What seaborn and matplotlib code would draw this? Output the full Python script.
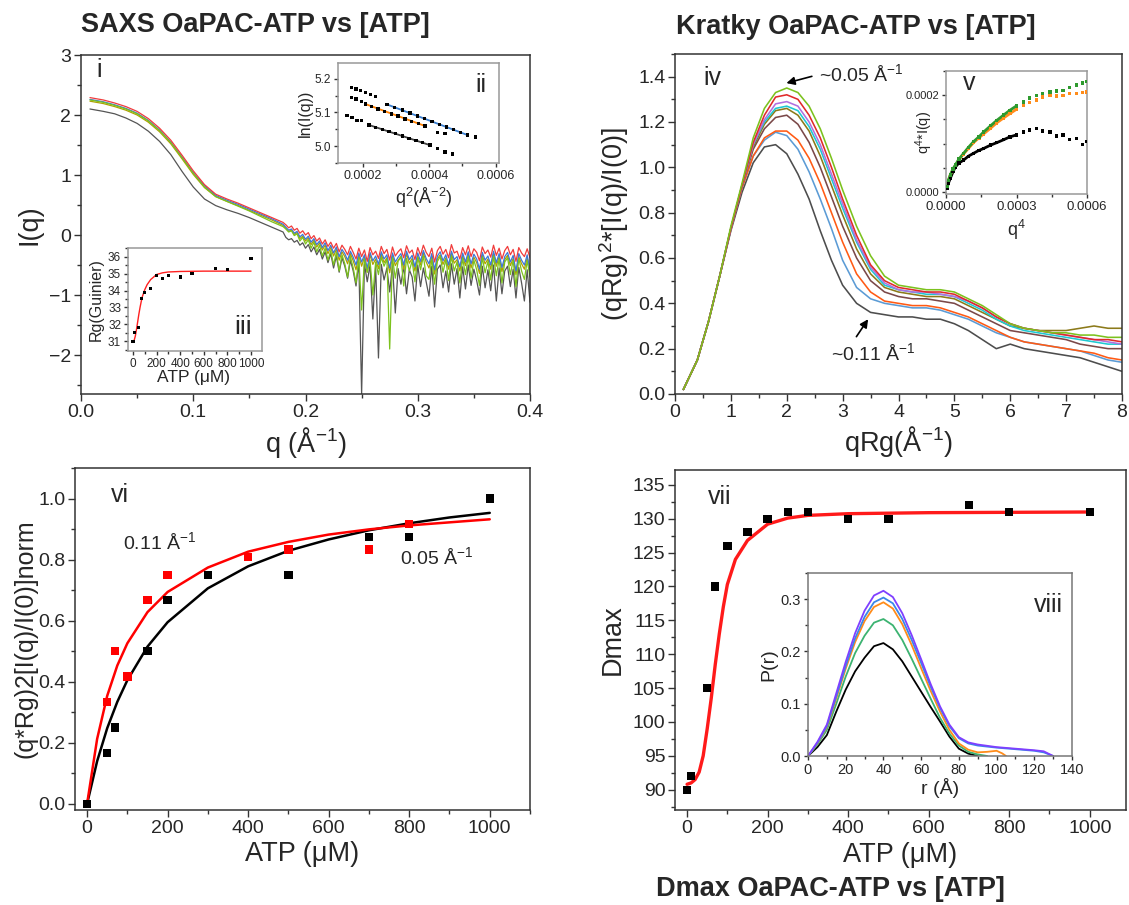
import numpy as np
import pandas as pd
import seaborn as sns
import matplotlib.pyplot as plt
from matplotlib.ticker import MultipleLocator, FixedLocator, FormatStrFormatter

sns.set_style("ticks")
plt.rcParams['font.family'] = ['Liberation Sans', 'DejaVu Sans']
plt.rcParams['mathtext.fontset'] = 'custom'
plt.rcParams['mathtext.rm'] = 'Liberation Sans'
plt.rcParams['mathtext.it'] = 'Liberation Sans:italic'
plt.rcParams['mathtext.bf'] = 'Liberation Sans:bold'
plt.rcParams['axes.edgecolor'] = '#333333'
plt.rcParams['axes.linewidth'] = 1.1

# ---------------- panel i : SAXS curves ----------------
q_smooth = [0.008, 0.02, 0.03, 0.04, 0.05, 0.06, 0.07, 0.08, 0.09, 0.10,
            0.11, 0.12, 0.13, 0.14, 0.15, 0.16, 0.17, 0.18]
q_tail = list(np.round(np.arange(0.1825, 0.40001, 0.0025), 4))

red_s = [2.29, 2.25, 2.20, 2.14, 2.06, 1.94, 1.78, 1.58, 1.33, 1.07, 0.84, 0.68, 0.60, 0.53, 0.45, 0.37, 0.29, 0.21]
blue_s = [2.26, 2.22, 2.17, 2.11, 2.03, 1.91, 1.75, 1.55, 1.30, 1.04, 0.82, 0.66, 0.58, 0.51, 0.43, 0.35, 0.27, 0.18]
olive_s = [2.23, 2.19, 2.14, 2.08, 2.00, 1.88, 1.72, 1.52, 1.27, 1.01, 0.79, 0.64, 0.56, 0.49, 0.41, 0.33, 0.25, 0.16]
green_s = [2.25, 2.21, 2.16, 2.10, 2.02, 1.90, 1.74, 1.54, 1.29, 1.03, 0.80, 0.64, 0.56, 0.48, 0.40, 0.31, 0.22, 0.14]
gray_s = [2.10, 2.06, 2.02, 1.95, 1.86, 1.73, 1.56, 1.34, 1.06, 0.80, 0.60, 0.49, 0.42, 0.36, 0.29, 0.21, 0.13, 0.05]

red_t = [0.17, 0.12, 0.15, 0.08, 0.11, 0.03, 0.07, 0.00, 0.04, -0.06, -0.01,
         -0.10, -0.05, -0.15, -0.08, -0.19, -0.12, -0.22, -0.14, -0.28, -0.17, -0.24,
         -0.33, -0.19, -0.29, -0.40, -0.22, -0.36, -0.25, -0.44, -0.21, -0.33, -0.27,
         -0.39, -0.19, -0.31, -0.24, -0.42, -0.20, -0.35, -0.28, -0.23, -0.38, -0.18,
         -0.30, -0.25, -0.41, -0.21, -0.34, -0.17, -0.29, -0.36, -0.22, -0.45, -0.26,
         -0.19, -0.32, -0.24, -0.38, -0.16, -0.30, -0.27, -0.40, -0.21, -0.33, -0.18,
         -0.36, -0.23, -0.29, -0.43, -0.20, -0.31, -0.25, -0.37, -0.17, -0.34, -0.22,
         -0.40, -0.26, -0.19, -0.33, -0.24, -0.44, -0.21, -0.30, -0.36, -0.23, -0.38]
blue_t = [0.13, 0.08, 0.10, 0.03, 0.06, -0.03, 0.01, -0.07, -0.02, -0.12, -0.06,
          -0.16, -0.10, -0.21, -0.13, -0.26, -0.17, -0.30, -0.20, -0.36, -0.24, -0.31,
          -0.42, -0.27, -0.37, -0.50, -0.30, -0.45, -0.33, -0.56, -0.29, -0.43, -0.35,
          -0.49, -0.28, -0.40, -0.33, -0.55, -0.30, -0.45, -0.37, -0.31, -0.50, -0.27,
          -0.41, -0.34, -0.53, -0.30, -0.44, -0.26, -0.39, -0.48, -0.31, -0.58, -0.35,
          -0.28, -0.43, -0.33, -0.50, -0.27, -0.41, -0.36, -0.53, -0.30, -0.45, -0.28,
          -0.48, -0.32, -0.40, -0.57, -0.29, -0.42, -0.35, -0.50, -0.27, -0.46, -0.31,
          -0.54, -0.36, -0.29, -0.45, -0.34, -0.60, -0.31, -0.42, -0.50, -0.33, -0.62]
olive_t = [0.11, 0.06, 0.08, 0.01, 0.04, -0.06, -0.02, -0.10, -0.05, -0.16, -0.09,
           -0.20, -0.13, -0.25, -0.17, -0.31, -0.21, -0.35, -0.24, -0.42, -0.28, -0.36,
           -0.48, -0.31, -0.43, -0.58, -0.34, -0.52, -0.37, -0.62, -0.33, -0.49, -0.40,
           -0.56, -0.32, -0.46, -0.38, -0.63, -0.35, -0.51, -0.42, -0.36, -0.57, -0.31,
           -0.47, -0.39, -0.60, -0.35, -0.50, -0.30, -0.45, -0.55, -0.36, -0.65, -0.40,
           -0.33, -0.49, -0.38, -0.57, -0.31, -0.47, -0.41, -0.60, -0.35, -0.51, -0.32,
           -0.55, -0.37, -0.46, -0.64, -0.34, -0.48, -0.40, -0.57, -0.31, -0.52, -0.36,
           -0.61, -0.41, -0.34, -0.51, -0.39, -0.66, -0.36, -0.48, -0.57, -0.38, -0.55]
green_t = [0.10, 0.05, 0.07, -0.01, 0.02, -0.10, -0.04, -0.15, -0.08, -0.22, -0.12,
           -0.28, -0.17, -0.35, -0.22, -0.42, -0.26, -0.50, -0.29, -0.60, -0.33, -0.48,
           -0.70, -0.36, -0.55, -0.80, -0.38, -1.25, -0.40, -0.62, -0.42, -1.00, -0.45,
           -0.66, -0.37, -0.52, -0.40, -1.90, -0.38, -0.72, -0.44, -0.36, -0.85, -0.39,
           -0.60, -0.43, -0.78, -0.37, -0.58, -0.35, -0.68, -0.74, -0.40, -0.82, -0.44,
           -0.36, -0.62, -0.41, -0.76, -0.35, -0.60, -0.45, -0.80, -0.39, -0.66, -0.36,
           -0.72, -0.42, -0.58, -0.84, -0.37, -0.63, -0.44, -0.75, -0.35, -0.68, -0.40,
           -0.80, -0.45, -0.38, -0.66, -0.42, -0.86, -0.39, -0.60, -0.74, -0.43, -0.70]
gray_t = [-0.04, -0.08, -0.06, -0.12, -0.09, -0.17, -0.13, -0.22, -0.16, -0.28, -0.20,
          -0.33, -0.24, -0.40, -0.28, -0.46, -0.31, -0.55, -0.35, -0.62, -0.38, -0.52,
          -0.72, -0.42, -0.60, -0.85, -0.45, -2.65, -0.48, -0.78, -0.50, -1.40, -0.52,
          -2.05, -0.49, -0.75, -0.55, -0.95, -0.50, -1.30, -0.56, -0.82, -0.52, -0.98,
          -0.58, -0.70, -1.10, -0.50, -0.86, -0.55, -0.78, -1.02, -0.52, -1.20, -0.57,
          -0.50, -0.88, -0.60, -0.95, -0.48, -0.82, -0.56, -1.05, -0.53, -0.90, -0.50,
          -0.84, -0.57, -0.76, -1.00, -0.52, -0.88, -0.58, -0.93, -0.50, -1.10, -0.55,
          -0.98, -0.60, -0.52, -0.86, -0.57, -1.05, -0.54, -0.80, -1.10, -0.58, -1.12]

# ---------------- inset ii : Guinier plots ----------------
ii_top_x = [0.0001657, 0.0001798, 0.0001929, 0.0002081, 0.0002222, 0.0002384, 0.0002727, 0.000296, 0.0003192,
            0.0003414, 0.0003636, 0.0003859, 0.0004081, 0.0004303, 0.0004525, 0.0004727, 0.0004949, 0.0005152, 0.0005384]
ii_top_y = [5.175, 5.170, 5.165, 5.159, 5.153, 5.147, 5.124, 5.115, 5.107, 5.098, 5.090, 5.082, 5.073, 5.065,
            5.057, 5.049, 5.041, 5.033, 5.027]
ii_top_fit_x = [0.0002727, 0.0005152]
ii_top_fit_y = [5.124, 5.033]
ii_mid_x = [0.0001657, 0.0001798, 0.000195, 0.0002081, 0.0002253, 0.0002455, 0.0002657, 0.0002859, 0.0003061,
            0.0003263, 0.0003465, 0.0003667, 0.0003869, 0.0004242, 0.0004475]
ii_mid_y = [5.145, 5.140, 5.133, 5.125, 5.117, 5.110, 5.103, 5.096, 5.089, 5.081, 5.074, 5.067, 5.060, 5.040, 5.037]
ii_mid_fit_x = [0.0002081, 0.0003869]
ii_mid_fit_y = [5.125, 5.060]
ii_bot_x = [0.0001525, 0.0001677, 0.0001828, 0.000196, 0.0002182, 0.0002384, 0.0002586, 0.0002788, 0.000299,
            0.0003192, 0.0003394, 0.0003596, 0.0003798, 0.000402, 0.0004242, 0.0004475, 0.0004707]
ii_bot_y = [5.091, 5.086, 5.077, 5.076, 5.063, 5.056, 5.050, 5.043, 5.037, 5.030, 5.023, 5.017, 5.010, 5.003,
            4.993, 4.983, 4.977]
ii_bot_fit_x = [0.0002182, 0.000402]
ii_bot_fit_y = [5.063, 5.003]

# ---------------- inset iii : Rg vs ATP ----------------
iii_atp = [0, 10, 50, 70, 100, 150, 200, 250, 300, 400, 500, 700, 800, 1000]
iii_rg = [31.0, 31.5, 31.8, 33.55, 33.9, 34.1, 34.9, 34.7, 34.9, 34.8, 35.0, 35.3, 35.25, 35.9]
iii_fit_x = [0, 10, 20, 30, 40, 50, 60, 70, 80, 100, 120, 150, 200, 250, 300, 400, 600, 800, 1000]
iii_fit_y = [30.95, 31.05, 31.3, 31.7, 32.15, 32.6, 33.0, 33.35, 33.65, 34.05, 34.35, 34.65, 34.95, 35.05,
             35.1, 35.13, 35.15, 35.15, 35.15]

# ---------------- panel iv : Kratky ----------------
qrg = [0.15, 0.4, 0.6, 0.8, 1.0, 1.2, 1.4, 1.6, 1.8, 2.0, 2.2, 2.4, 2.6, 2.8, 3.0, 3.25, 3.5, 3.75, 4.0,
       4.25, 4.5, 4.75, 5.0, 5.25, 5.5, 5.75, 6.0, 6.25, 6.5, 6.75, 7.0, 7.25, 7.5, 7.75, 8.0]
k_gray = [0.02, 0.15, 0.32, 0.52, 0.72, 0.89, 1.02, 1.09, 1.10, 1.06, 0.97, 0.86, 0.72, 0.59, 0.48, 0.40, 0.36, 0.35, 0.34,
          0.34, 0.33, 0.33, 0.31, 0.28, 0.24, 0.20, 0.22, 0.20, 0.19, 0.18, 0.17, 0.16, 0.14, 0.12, 0.10]
k_blue = [0.02, 0.15, 0.32, 0.52, 0.73, 0.91, 1.05, 1.12, 1.155, 1.14, 1.08, 0.98, 0.86, 0.73, 0.59, 0.47, 0.42, 0.40, 0.39,
          0.38, 0.38, 0.37, 0.35, 0.33, 0.30, 0.27, 0.25, 0.23, 0.22, 0.21, 0.20, 0.19, 0.17, 0.15, 0.14]
k_orange = [0.02, 0.15, 0.32, 0.52, 0.73, 0.91, 1.05, 1.13, 1.16, 1.16, 1.12, 1.04, 0.93, 0.80, 0.67, 0.53, 0.45, 0.41, 0.40,
            0.39, 0.39, 0.38, 0.36, 0.34, 0.31, 0.28, 0.25, 0.23, 0.22, 0.21, 0.20, 0.19, 0.18, 0.16, 0.15]
k_brown = [0.02, 0.15, 0.32, 0.52, 0.73, 0.92, 1.08, 1.17, 1.22, 1.23, 1.19, 1.11, 1.00, 0.87, 0.74, 0.60, 0.50, 0.45, 0.43,
           0.42, 0.42, 0.41, 0.40, 0.37, 0.34, 0.31, 0.28, 0.27, 0.26, 0.25, 0.24, 0.22, 0.21, 0.20, 0.20]
k_olive = [0.02, 0.15, 0.32, 0.52, 0.73, 0.92, 1.09, 1.19, 1.25, 1.26, 1.23, 1.16, 1.05, 0.92, 0.79, 0.64, 0.53, 0.47, 0.45,
           0.44, 0.43, 0.43, 0.42, 0.39, 0.36, 0.33, 0.30, 0.29, 0.28, 0.28, 0.28, 0.29, 0.30, 0.29, 0.29]
k_cyan = [0.02, 0.15, 0.32, 0.52, 0.73, 0.92, 1.10, 1.20, 1.26, 1.27, 1.25, 1.18, 1.08, 0.95, 0.82, 0.67, 0.55, 0.48, 0.46,
          0.45, 0.44, 0.44, 0.43, 0.40, 0.37, 0.33, 0.30, 0.28, 0.27, 0.26, 0.25, 0.24, 0.23, 0.22, 0.22]
k_purple = [0.02, 0.15, 0.32, 0.52, 0.73, 0.92, 1.10, 1.21, 1.28, 1.29, 1.27, 1.20, 1.10, 0.97, 0.84, 0.68, 0.56, 0.49, 0.46,
            0.45, 0.45, 0.44, 0.43, 0.41, 0.38, 0.34, 0.31, 0.29, 0.28, 0.27, 0.26, 0.25, 0.24, 0.23, 0.22]
k_red = [0.02, 0.15, 0.32, 0.52, 0.73, 0.92, 1.11, 1.23, 1.31, 1.32, 1.30, 1.23, 1.13, 1.00, 0.86, 0.70, 0.57, 0.50, 0.47,
         0.46, 0.45, 0.45, 0.44, 0.41, 0.38, 0.34, 0.31, 0.29, 0.28, 0.27, 0.26, 0.25, 0.24, 0.24, 0.23]
k_green = [0.02, 0.15, 0.32, 0.52, 0.74, 0.93, 1.13, 1.26, 1.33, 1.35, 1.33, 1.27, 1.17, 1.04, 0.90, 0.74, 0.61, 0.52, 0.48,
           0.47, 0.46, 0.46, 0.45, 0.42, 0.39, 0.35, 0.31, 0.29, 0.28, 0.27, 0.27, 0.26, 0.26, 0.25, 0.25]

# ---------------- inset v : Porod-like ----------------
v_x = [0.000004, 0.00001, 0.000018, 0.00003, 0.00004, 0.000055, 0.000075, 0.000095, 0.000117, 0.00014, 0.00016,
       0.00019, 0.000216, 0.000245, 0.000272, 0.0003, 0.000329, 0.000355, 0.000385, 0.00041, 0.000442, 0.00047,
       0.000498, 0.000525, 0.000555, 0.00058, 0.000597]
v_green = [0.000011, 0.000024, 0.000035, 0.000048, 0.000056, 0.000068, 0.00008, 0.000092, 0.000104, 0.000114, 0.000124,
           0.000137, 0.000148, 0.000159, 0.000169, 0.000178, 0.000186, 0.000194, 0.0002, 0.000203, 0.000207, 0.000209,
           0.00021, 0.000216, 0.000221, 0.000225, 0.000228]
v_orange = [0.000011, 0.000024, 0.000035, 0.000047, 0.000055, 0.000067, 0.000079, 0.00009, 0.000102, 0.000112, 0.00012,
            0.000132, 0.000143, 0.000153, 0.000162, 0.000171, 0.000179, 0.000185, 0.00019, 0.000196, 0.0002, 0.000198,
            0.0002, 0.000203, 0.000203, 0.000206, 0.000207]
v_black = [0.0000076, 0.000018, 0.000028, 0.000042, 0.000052, 0.00006, 0.000066, 0.000074, 0.00008, 0.000086, 0.00009,
           0.000097, 0.000102, 0.000108, 0.000114, 0.000118, 0.000124, 0.000128, 0.000131, 0.000126, 0.000124, 0.000116,
           0.000118, 0.000108, 0.000111, 0.000098, 0.000104]

# ---------------- panel vi : normalised Kratky peak ----------------
vi_black_x = [0, 50, 70, 150, 200, 300, 500, 700, 800, 1000]
vi_black_y = [0.0, 0.1667, 0.25, 0.5, 0.6667, 0.75, 0.75, 0.875, 0.875, 1.0]
vi_red_x = [0, 50, 70, 100, 150, 200, 400, 500, 700, 800]
vi_red_y = [0.0, 0.3333, 0.5, 0.4167, 0.6667, 0.75, 0.8077, 0.8333, 0.8333, 0.9167]
vi_fit_x = [0, 25, 50, 75, 100, 150, 200, 300, 400, 500, 600, 700, 800, 900, 1000]
vi_fit_black = [0.0, 0.14, 0.248, 0.334, 0.405, 0.515, 0.595, 0.706, 0.778, 0.829, 0.866, 0.896, 0.919, 0.938, 0.953]
vi_fit_red = [0.0, 0.213, 0.354, 0.453, 0.526, 0.628, 0.694, 0.774, 0.826, 0.858, 0.882, 0.899, 0.912, 0.922, 0.932]

# ---------------- panel vii : Dmax ----------------
dmax_atp = [0, 10, 50, 70, 100, 150, 200, 250, 300, 400, 500, 700, 800, 1000]
dmax = [90, 92, 105, 120, 126, 128, 130, 131, 131, 130, 130, 132, 131, 131]
dmax_fit_x = [0, 10, 20, 30, 40, 50, 60, 70, 80, 90, 100, 120, 150, 200, 250, 300, 400, 600, 800, 1000]
dmax_fit_y = [90.8, 91.0, 91.5, 92.6, 95.0, 99.0, 103.5, 108.5, 113.0, 117.0, 120.3, 124.0, 126.8, 129.2,
              130.1, 130.5, 130.75, 130.9, 130.95, 131.0]

# ---------------- inset viii : P(r) ----------------
r_short = [0, 5, 10, 15, 20, 25, 30, 35, 40, 45, 50, 55, 60, 65, 70, 75, 80, 85, 90]
pr_black = [0, 0.017, 0.04, 0.085, 0.127, 0.162, 0.188, 0.210, 0.216, 0.204, 0.181, 0.152, 0.123, 0.094,
            0.066, 0.037, 0.014, 0.0045, 0.0]
r_green = [0, 5, 10, 15, 20, 25, 30, 35, 40, 45, 50, 55, 60, 65, 70, 75, 80, 85, 90, 95]
pr_green = [0, 0.022, 0.05, 0.10, 0.152, 0.197, 0.23, 0.255, 0.262, 0.25, 0.222, 0.186, 0.148, 0.11, 0.073,
            0.043, 0.02, 0.008, 0.003, 0.0]
r_orange = [0, 5, 10, 15, 20, 25, 30, 35, 40, 45, 50, 55, 60, 65, 70, 75, 80, 85, 90, 95, 100, 103, 105]
pr_orange = [0, 0.024, 0.055, 0.11, 0.167, 0.218, 0.258, 0.285, 0.294, 0.282, 0.252, 0.212, 0.168, 0.125, 0.085,
             0.05, 0.024, 0.012, 0.007, 0.008, 0.010, 0.005, 0.0]
r_long = [0, 5, 10, 15, 20, 25, 30, 35, 40, 45, 50, 55, 60, 65, 70, 75, 80, 85, 90, 100, 110, 120, 125, 130]
pr_blue = [0, 0.025, 0.057, 0.114, 0.172, 0.225, 0.266, 0.294, 0.303, 0.292, 0.262, 0.222, 0.178, 0.133, 0.092,
           0.057, 0.034, 0.024, 0.02, 0.016, 0.013, 0.01, 0.007, 0.0]
pr_purple = [0, 0.027, 0.06, 0.12, 0.18, 0.235, 0.278, 0.307, 0.316, 0.304, 0.273, 0.231, 0.185, 0.138, 0.095,
             0.06, 0.036, 0.026, 0.022, 0.017, 0.014, 0.011, 0.009, 0.0]

W, H = 1129, 905


def box(l, t, r, b):
    return [l / W, 1 - b / H, (r - l) / W, (b - t) / H]


def style(ax, size, major=5, minor=3):
    ax.tick_params(which='major', direction='out', length=major, width=1, labelsize=size,
                   color='#333333', pad=2)
    ax.tick_params(which='minor', direction='out', length=minor, width=1, color='#333333')
    for s in ax.spines.values():
        s.set_visible(True)
        s.set_color('#333333')


def line(ax, x, y, color, lw, z=2):
    sns.lineplot(x=x, y=y, ax=ax, color=color, lw=lw, estimator=None, sort=False, zorder=z)


fig = plt.figure(figsize=(11.29, 9.05), dpi=100)

# ---- panel i
ax1 = fig.add_axes(box(81, 55, 530, 394))
q_all = q_smooth + q_tail
for s_vals, t_vals, col in [(gray_s, gray_t, '#555555'), (olive_s, olive_t, '#b0a000'),
                            (blue_s, blue_t, '#3c78d8'), (green_s, green_t, '#7cc21e'),
                            (red_s, red_t, '#f03c3c')]:
    line(ax1, q_all, s_vals + t_vals, col, 0.9)
ax1.set_xlim(0, 0.4)
ax1.set_ylim(-2.65, 3)
ax1.xaxis.set_major_locator(MultipleLocator(0.1))
ax1.xaxis.set_minor_locator(MultipleLocator(0.05))
ax1.xaxis.set_major_formatter(FormatStrFormatter('%.1f'))
ax1.yaxis.set_major_locator(MultipleLocator(1))
ax1.yaxis.set_minor_locator(MultipleLocator(0.5))
style(ax1, 14)
ax1.set_xlabel('q (Å$^{-1}$)', fontsize=19.5, va='center')
ax1.set_ylabel('I(q)', fontsize=19.5, va='center')
ax1.xaxis.set_label_coords(0.5, -0.142)
ax1.yaxis.set_label_coords(-0.114, 0.5)
ax1.text(0.035, 0.955, 'i', transform=ax1.transAxes, fontsize=18, va='center', ha='left')

# ---- inset ii
ax2 = fig.add_axes(box(338, 63, 499, 163))
for xs, ys in [(ii_top_x, ii_top_y), (ii_mid_x, ii_mid_y), (ii_bot_x, ii_bot_y)]:
    sns.scatterplot(x=xs, y=ys, ax=ax2, color='black', marker='s', s=6, edgecolor='none', zorder=3)
line(ax2, ii_top_fit_x, ii_top_fit_y, '#3a7fd0', 1.3, 2)
line(ax2, ii_mid_fit_x, ii_mid_fit_y, '#ff8000', 1.3, 2)
line(ax2, ii_bot_fit_x, ii_bot_fit_y, '#444444', 1.3, 2)
ax2.set_xlim(0.000125, 0.00061)
ax2.set_ylim(4.95, 5.247)
ax2.xaxis.set_major_locator(FixedLocator([0.0002, 0.0004, 0.0006]))
ax2.xaxis.set_minor_locator(MultipleLocator(0.0001))
ax2.xaxis.set_major_formatter(FormatStrFormatter('%.4f'))
ax2.yaxis.set_major_locator(MultipleLocator(0.1))
ax2.yaxis.set_minor_locator(MultipleLocator(0.05))
ax2.yaxis.set_major_formatter(FormatStrFormatter('%.1f'))
style(ax2, 9, 3, 2)
ax2.tick_params(axis='y', labelsize=8.5)
for s in ax2.spines.values():
    s.set_color('#999999')
ax2.set_xlabel('q$^{2}$(Å$^{-2}$)', fontsize=13, va='center')
ax2.set_ylabel('ln(I(q))', fontsize=11.5, va='center')
ax2.xaxis.set_label_coords(0.53, -0.35)
ax2.yaxis.set_label_coords(-0.2, 0.5)
ax2.text(0.89, 0.78, 'ii', transform=ax2.transAxes, fontsize=18, va='center', ha='center')

# ---- inset iii
ax3 = fig.add_axes(box(128, 248, 262, 351))
line(ax3, iii_fit_x, iii_fit_y, '#ff2020', 1.0)
sns.scatterplot(x=iii_atp, y=iii_rg, ax=ax3, color='black', marker='s', s=5, edgecolor='none', zorder=3)
ax3.set_xlim(-42, 1093)
ax3.set_ylim(30.42, 36.52)
ax3.xaxis.set_major_locator(MultipleLocator(200))
ax3.xaxis.set_minor_locator(MultipleLocator(100))
ax3.yaxis.set_major_locator(MultipleLocator(1))
ax3.yaxis.set_minor_locator(MultipleLocator(0.5))
style(ax3, 8.5, 3, 2)
for s in ax3.spines.values():
    s.set_color('#999999')
ax3.set_xlabel('ATP (μM)', fontsize=12.5, va='center')
ax3.set_ylabel('Rg(Guinier)', fontsize=11.5, va='center')
ax3.xaxis.set_label_coords(0.49, -0.26)
ax3.yaxis.set_label_coords(-0.235, 0.5)
ax3.text(0.86, 0.23, 'iii', transform=ax3.transAxes, fontsize=19, va='center', ha='center')

# ---- panel iv
k_names = ['gray', 'blue', 'orange', 'brown', 'olive', 'cyan', 'purple', 'red', 'green']
k_vals = [k_gray, k_blue, k_orange, k_brown, k_olive, k_cyan, k_purple, k_red, k_green]
k_cols = ['#4d4d4d', '#5b9bd5', '#ff5a14', '#7a4848', '#8c7a1a', '#1ec8d2', '#b070e0', '#e02a2a', '#7cc21e']
kratky = pd.DataFrame({
    'qRg': qrg * len(k_names),
    'val': sum(k_vals, []),
    'curve': np.repeat(k_names, len(qrg)),
})
ax4 = fig.add_axes(box(675, 54, 1122, 394))
sns.lineplot(data=kratky, x='qRg', y='val', hue='curve', hue_order=k_names,
             palette=dict(zip(k_names, k_cols)), estimator=None, sort=False,
             legend=False, lw=1.15, ax=ax4)
ax4.set_xlim(0, 8)
ax4.set_ylim(0, 1.5)
ax4.xaxis.set_major_locator(MultipleLocator(1))
ax4.xaxis.set_minor_locator(MultipleLocator(0.5))
ax4.yaxis.set_minor_locator(MultipleLocator(0.1))
ax4.set_yticks([0, 0.2, 0.4, 0.6, 0.8, 1.0, 1.2, 1.4])
ax4.yaxis.set_major_formatter(FormatStrFormatter('%.1f'))
style(ax4, 14)
ax4.set_xlabel('qRg(Å$^{-1}$)', fontsize=19.5, va='center')
ax4.set_ylabel('(qRg)$^{2}$*[I(q)/I(0)]', fontsize=19.5, va='center')
ax4.xaxis.set_label_coords(0.5, -0.141)
ax4.yaxis.set_label_coords(-0.136, 0.5)
ax4.text(0.063, 0.93, 'iv', transform=ax4.transAxes, fontsize=18, va='center', ha='left')
ax4.annotate('~0.05 Å$^{-1}$', xy=(1.97, 1.37), xytext=(2.58, 1.41), fontsize=14,
             va='center', ha='left',
             arrowprops=dict(arrowstyle='-|>', color='black', lw=1.2, relpos=(0, 0.5),
                             shrinkA=3, shrinkB=1, mutation_scale=12))
ax4.annotate('~0.11 Å$^{-1}$', xy=(3.47, 0.335), xytext=(2.8, 0.18), fontsize=14,
             va='center', ha='left',
             arrowprops=dict(arrowstyle='-|>', color='black', lw=1.2, relpos=(0.25, 1.0),
                             shrinkA=2, shrinkB=1, mutation_scale=12))

# ---- inset v
ax5 = fig.add_axes(box(946, 71, 1087, 194))
n_dense = 16
for ys, col in [(v_black, 'black'), (v_orange, '#ff8c1a'), (v_green, '#2e9a2e')]:
    line(ax5, v_x[:n_dense], ys[:n_dense], col, 2.0)
    sns.scatterplot(x=v_x, y=ys, ax=ax5, color=col, marker='s', s=6, edgecolor='none', zorder=3)
ax5.set_xlim(0, 0.0006)
ax5.set_ylim(-0.000004, 0.00025)
ax5.xaxis.set_major_locator(FixedLocator([0, 0.0003, 0.0006]))
ax5.xaxis.set_minor_locator(MultipleLocator(0.00015))
ax5.xaxis.set_major_formatter(FormatStrFormatter('%.4f'))
ax5.yaxis.set_major_locator(FixedLocator([0, 0.0002]))
ax5.yaxis.set_minor_locator(MultipleLocator(0.00005))
ax5.yaxis.set_major_formatter(FormatStrFormatter('%.4f'))
style(ax5, 9.5, 3, 2)
ax5.tick_params(axis='y', labelsize=8)
for s in ax5.spines.values():
    s.set_color('#999999')
ax5.set_xlabel('q$^{4}$', fontsize=13, va='center')
ax5.set_ylabel('q$^{4}$*I(q)', fontsize=10.5, va='center')
ax5.xaxis.set_label_coords(0.5, -0.29)
ax5.yaxis.set_label_coords(-0.156, 0.5)
ax5.text(0.12, 0.9, 'v', transform=ax5.transAxes, fontsize=18, va='center', ha='left')

# ---- panel vi
ax6 = fig.add_axes(box(75, 468, 530, 810))
line(ax6, vi_fit_x, vi_fit_black, 'black', 1.8)
line(ax6, vi_fit_x, vi_fit_red, '#ff0000', 1.8)
sns.scatterplot(x=vi_black_x, y=vi_black_y, ax=ax6, color='black', marker='s', s=36, edgecolor='none', zorder=3)
sns.scatterplot(x=vi_red_x[1:], y=vi_red_y[1:], ax=ax6, color='#ff0000', marker='s', s=36, edgecolor='none', zorder=3)
ax6.set_xlim(-30, 1100)
ax6.set_ylim(-0.02, 1.1)
ax6.xaxis.set_major_locator(MultipleLocator(200))
ax6.xaxis.set_minor_locator(MultipleLocator(100))
ax6.yaxis.set_major_locator(FixedLocator([0, 0.2, 0.4, 0.6, 0.8, 1.0]))
ax6.yaxis.set_minor_locator(MultipleLocator(0.1))
ax6.yaxis.set_major_formatter(FormatStrFormatter('%.1f'))
style(ax6, 14)
ax6.set_xlabel('ATP (μM)', fontsize=19.5, va='center')
ax6.set_ylabel('(q*Rg)2[I(q)/I(0)]norm', fontsize=18, va='center')
ax6.xaxis.set_label_coords(0.5, -0.13)
ax6.yaxis.set_label_coords(-0.108, 0.5)
ax6.text(0.08, 0.92, 'vi', transform=ax6.transAxes, fontsize=18, va='center', ha='left')
ax6.text(90, 0.857, '0.11 Å$^{-1}$', fontsize=14, va='center', ha='left')
ax6.text(777, 0.808, '0.05 Å$^{-1}$', fontsize=14, va='center', ha='left')

# ---- panel vii
ax7 = fig.add_axes(box(675, 470, 1126, 810))
line(ax7, dmax_fit_x, dmax_fit_y, '#ff1a1a', 2.4)
sns.scatterplot(x=dmax_atp, y=dmax, ax=ax7, color='black', marker='s', s=36, edgecolor='none', zorder=3)
ax7.set_xlim(-30, 1090)
ax7.set_ylim(87, 137.2)
ax7.xaxis.set_major_locator(MultipleLocator(200))
ax7.xaxis.set_minor_locator(MultipleLocator(100))
ax7.yaxis.set_major_locator(MultipleLocator(5))
ax7.yaxis.set_minor_locator(MultipleLocator(2.5))
style(ax7, 14)
ax7.set_xlabel('ATP (μM)', fontsize=19.5, va='center')
ax7.set_ylabel('Dmax', fontsize=19.5, va='center')
ax7.xaxis.set_label_coords(0.5, -0.132)
ax7.yaxis.set_label_coords(-0.138, 0.5)
ax7.text(0.074, 0.92, 'vii', transform=ax7.transAxes, fontsize=18, va='center', ha='left')

# ---- inset viii
ax8 = fig.add_axes(box(808, 573, 1072, 756))
line(ax8, r_short, pr_black, 'black', 1.3)
line(ax8, r_green, pr_green, '#3cb371', 1.3)
line(ax8, r_orange, pr_orange, '#ff8c1a', 1.3)
line(ax8, r_long, pr_blue, '#3a86e8', 1.3)
line(ax8, r_long, pr_purple, '#7f3fff', 1.3)
ax8.set_xlim(0, 140)
ax8.set_ylim(0, 0.35)
ax8.xaxis.set_major_locator(MultipleLocator(20))
ax8.xaxis.set_minor_locator(MultipleLocator(10))
ax8.yaxis.set_major_locator(FixedLocator([0, 0.1, 0.2, 0.3]))
ax8.yaxis.set_minor_locator(MultipleLocator(0.05))
ax8.yaxis.set_major_formatter(FormatStrFormatter('%.1f'))
style(ax8, 10.5, 3, 2)
for s in ax8.spines.values():
    s.set_color('#777777')
ax8.set_xlabel('r (Å)', fontsize=14, va='center')
ax8.set_ylabel('P(r)', fontsize=14, va='center')
ax8.xaxis.set_label_coords(0.5, -0.175)
ax8.yaxis.set_label_coords(-0.15, 0.5)
ax8.text(0.91, 0.825, 'viii', transform=ax8.transAxes, fontsize=18, va='center', ha='center')

# ---- titles
fig.text(81 / W, 1 - 25 / H, 'SAXS OaPAC-ATP vs [ATP]', fontsize=19.5, fontweight='bold', ha='left', va='center')
fig.text(676 / W, 1 - 27 / H, 'Kratky OaPAC-ATP vs [ATP]', fontsize=19.5, fontweight='bold', ha='left', va='center')
fig.text(656 / W, 1 - 889 / H, 'Dmax OaPAC-ATP vs [ATP]', fontsize=19.5, fontweight='bold', ha='left', va='center')

fig.savefig('out.png', dpi=100)
